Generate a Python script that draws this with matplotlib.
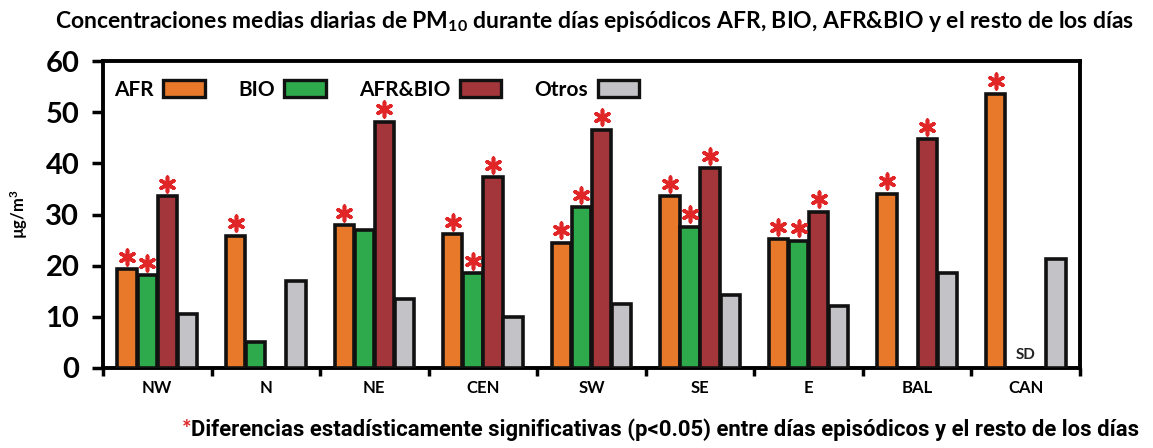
import numpy as np
import matplotlib
matplotlib.use("Agg")
import matplotlib.pyplot as plt
from matplotlib.patches import Patch
from matplotlib.transforms import offset_copy
from matplotlib.ticker import FixedLocator

plt.rcParams['font.family'] = ['Lato', 'DejaVu Sans']
plt.rcParams['mathtext.default'] = 'regular'

# data
regions = ["NW", "N", "NE", "CEN", "SW", "SE", "E", "BAL", "CAN"]
series = ["AFR", "BIO", "AFR&BIO", "Otros"]
afr = [19.3, 25.8, 27.9, 26.1, 24.5, 33.6, 25.2, 34.1, 53.6]
bio = [18.1, 5.0, 26.9, 18.5, 31.4, 27.6, 24.9, None, None]
afrbio = [33.6, None, 48.1, 37.3, 46.6, 39.0, 30.5, 44.7, None]
otros = [10.5, 17.0, 13.4, 10.0, 12.6, 14.2, 12.2, 18.6, 21.4]

# significant differences (red asterisk)
sig_afr = [1, 1, 1, 1, 1, 1, 1, 1, 1]
sig_bio = [1, 0, 0, 1, 1, 1, 1, 0, 0]
sig_afrbio = [1, 0, 1, 1, 1, 1, 1, 1, 0]
sig_otros = [0, 0, 0, 0, 0, 0, 0, 0, 0]

colors = ['#E8792A', '#2EAA4C', '#A3363B', '#C3C3C7']

vals = [afr, bio, afrbio, otros]
sigs = [sig_afr, sig_bio, sig_afrbio, sig_otros]

fig = plt.figure(figsize=(11.53, 4.48), dpi=100)
ax = fig.add_axes([0.0893, 0.1786, 0.8474, 0.6852])

x = np.arange(len(regions))
step = 0.185
star_tr = offset_copy(ax.transData, fig=fig, y=9, units='points')
for i, (v, s, c) in enumerate(zip(vals, sigs, colors)):
    h = np.array([np.nan if a is None else a for a in v], dtype=float)
    xs = x + (i - 1.5) * step
    ax.bar(xs, h, width=0.178, color=c, edgecolor='#111111', linewidth=2.6, zorder=3)
    m = np.array(s, dtype=bool) & ~np.isnan(h)
    ax.scatter(xs[m], h[m], transform=star_tr, marker=(6, 2, 0), s=110,
               color='#E02626', linewidths=2.6, zorder=4, clip_on=False)

# SD label for CAN (no data)
ax.text(8, 1.2, "SD", ha='center', va='bottom', fontsize=11, fontweight='bold',
        color='#222222', zorder=5)

ax.set_xlim(-0.5, 8.5)
ax.set_ylim(0, 60)
ax.set_yticks(range(0, 61, 10))
ax.set_xticks(x)
ax.set_xticklabels(regions, fontsize=12, fontweight='bold')
ax.xaxis.set_minor_locator(FixedLocator(np.arange(-0.5, 8.6, 1.0)))
ax.tick_params(axis='x', which='major', length=0, pad=9)
ax.tick_params(axis='x', which='minor', length=6, width=2.5, direction='out')
ax.tick_params(axis='y', length=8, width=2.5, direction='out', labelsize=21, pad=9)
for lab in ax.get_yticklabels():
    lab.set_fontweight('bold')
for sp in ax.spines.values():
    sp.set_linewidth(2.8)

ax.set_ylabel("µg/m$^3$", fontsize=12, fontweight='bold', labelpad=11)

handles = [Patch(facecolor=c, edgecolor='#111111', linewidth=2.4) for c in colors]
ax.legend(handles, series, loc='upper left', bbox_to_anchor=(-0.008, 1.0), ncol=4,
          frameon=False, markerfirst=False, prop={'size': 15, 'weight': 'bold'},
          handlelength=2.0, handleheight=0.9, handletextpad=0.45, columnspacing=1.6)

fig.text(0.516, 0.951, "Concentraciones medias diarias de PM$_{10}$ durante días episódicos AFR, BIO, AFR&BIO y el resto de los días",
         ha='center', va='center', fontsize=16.5, fontweight='bold')

foot = fig.text(0.577, 0.04, "Diferencias estadísticamente significativas (p<0.05) entre días episódicos y el resto de los días",
                ha='center', va='center', fontsize=15.9, fontweight='bold',
                family=['Roboto', 'DejaVu Sans'])
ax.annotate("*", xy=(0, 1), xycoords=foot, ha='right', va='top',
            fontsize=16, fontweight='bold', color='#E02626', annotation_clip=False)

fig.savefig("out.png", dpi=100)
